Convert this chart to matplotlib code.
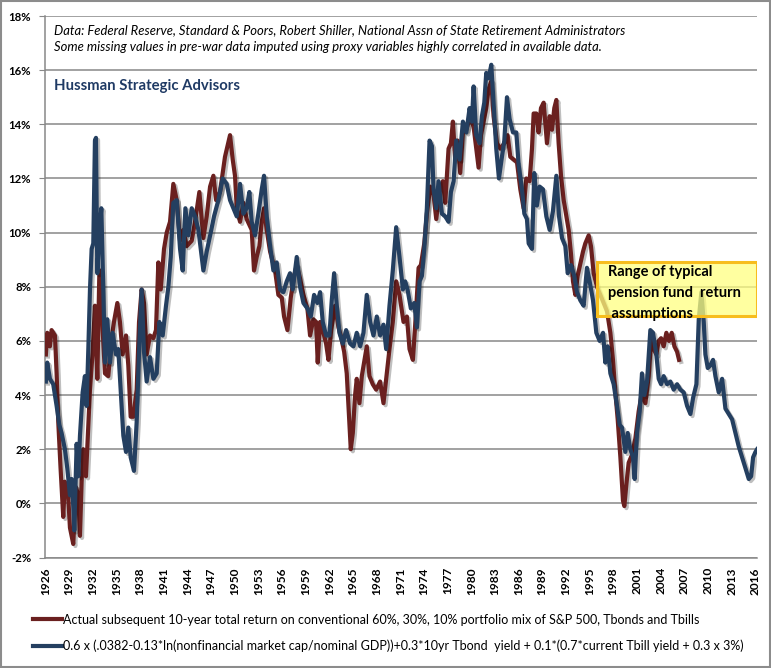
import matplotlib
matplotlib.use("Agg")
import matplotlib.pyplot as plt
import matplotlib.patheffects as pe
from matplotlib.lines import Line2D
from matplotlib.patches import Rectangle
from matplotlib.ticker import FixedLocator

plt.rcParams['font.family'] = ['Lato', 'DejaVu Sans']

# actual subsequent 10-year return of a 60/30/10 mix (%)
actual_years = [
    1926.06, 1926.23, 1926.57, 1926.78, 1927.21, 1927.42, 1927.63, 1927.92, 1928.26, 1928.47,
    1928.90, 1929.11, 1929.53, 1929.87, 1930.17, 1930.38, 1930.59, 1930.80, 1931.14, 1931.44,
    1931.65, 1931.99, 1932.28, 1932.58, 1932.83, 1933.04, 1933.26, 1933.55, 1933.97, 1934.40,
    1934.69, 1935.12, 1935.45, 1935.79, 1936.22, 1936.51, 1936.81, 1937.15, 1937.57, 1937.87,
    1938.20, 1938.50, 1938.84, 1939.26, 1939.69, 1940.02, 1940.32, 1940.62, 1941.04, 1941.38,
    1941.80, 1942.22, 1942.65, 1943.07, 1943.49, 1943.91, 1944.55, 1944.97, 1945.52, 1946.03,
    1946.45, 1946.88, 1947.30, 1947.64, 1948.14, 1948.77, 1949.41, 1949.75, 1950.04, 1950.26,
    1950.68, 1951.10, 1951.52, 1952.16, 1952.45, 1952.79, 1953.13, 1953.43, 1953.72, 1954.06,
    1954.49, 1955.12, 1955.54, 1955.97, 1956.26, 1956.69, 1957.11, 1957.53, 1957.87, 1958.29,
    1958.72, 1959.22, 1959.56, 1959.98, 1960.32, 1960.53, 1960.83, 1961.25, 1961.59, 1961.89,
    1962.23, 1962.73, 1963.16, 1963.45, 1963.88, 1964.21, 1964.43, 1964.72, 1964.98, 1965.27,
    1965.48, 1965.82, 1966.12, 1966.41, 1966.75, 1967.09, 1967.51, 1967.94, 1968.44, 1968.87,
    1969.21, 1969.63, 1970.05, 1970.48, 1970.90, 1971.41, 1971.84, 1972.17, 1972.60, 1972.89,
    1973.32, 1973.61, 1974.04, 1974.37, 1974.80, 1975.22, 1975.56, 1975.98, 1976.40, 1976.70,
    1977.12, 1977.42, 1977.67, 1977.97, 1978.27, 1978.60, 1978.94, 1979.37, 1979.87, 1980.30,
    1980.63, 1980.93, 1981.23, 1981.57, 1981.90, 1982.20, 1982.54, 1982.83, 1983.26, 1983.68,
    1984.19, 1984.61, 1984.95, 1985.37, 1985.80, 1986.22, 1986.64, 1986.98, 1987.40, 1987.70,
    1987.91, 1988.25, 1988.54, 1988.84, 1989.18, 1989.60, 1989.94, 1990.24, 1990.53, 1990.79,
    1991.08, 1991.38, 1991.72, 1992.06, 1992.35, 1992.65, 1992.90, 1993.20, 1993.49, 1994.17,
    1994.46, 1994.89, 1995.18, 1995.52, 1995.94, 1996.37, 1996.79, 1997.21, 1997.64, 1997.97,
    1998.27, 1998.57, 1998.91, 1999.24, 1999.41, 1999.67, 1999.96, 2000.39, 2000.81, 2001.23,
    2001.65, 2002.08, 2002.50, 2002.80, 2003.14, 2003.47, 2003.77, 2004.07, 2004.40, 2004.74,
    2005.08, 2005.42, 2005.76, 2006.10, 2006.35,
]
actual_ret = [
    5.5, 6.3, 5.8, 6.4, 6.2, 4.8, 3.0, 1.3, -0.5, 0.8,
    0.2, -0.9, -1.5, 0.6, 0.3, -1.2, 0.8, 2.0, 1.0, 2.9,
    4.2, 5.6, 7.3, 4.6, 8.4, 8.6, 6.4, 4.8, 4.7, 6.1,
    6.7, 7.4, 6.7, 5.5, 6.2, 5.1, 3.2, 3.2, 4.2, 6.7,
    7.9, 7.4, 5.5, 6.2, 6.1, 6.4, 8.9, 7.9, 9.4, 10.0,
    10.4, 11.8, 11.2, 9.7, 10.1, 9.5, 9.7, 10.4, 11.5, 9.8,
    10.6, 11.7, 12.1, 11.2, 11.5, 12.8, 13.6, 12.7, 12.1, 10.9,
    10.4, 11.1, 10.5, 10.1, 8.6, 9.1, 9.5, 10.4, 10.9, 10.1,
    9.3, 8.6, 7.7, 7.6, 6.9, 6.4, 7.6, 8.4, 8.8, 8.3,
    7.7, 7.2, 6.2, 6.8, 6.7, 5.2, 6.7, 6.3, 5.9, 5.3,
    6.4, 7.3, 6.5, 6.2, 5.6, 4.8, 3.6, 2.0, 2.6, 4.0,
    4.6, 3.7, 4.7, 5.2, 5.8, 4.7, 4.4, 4.2, 4.5, 3.7,
    4.6, 5.7, 6.7, 8.2, 7.7, 6.7, 6.9, 5.7, 5.3, 6.6,
    8.7, 8.8, 9.6, 10.7, 11.7, 11.4, 10.5, 11.5, 11.9, 11.1,
    13.1, 13.3, 14.1, 12.7, 13.4, 12.2, 13.7, 13.8, 14.3, 13.9,
    13.1, 12.4, 13.6, 14.1, 14.6, 15.3, 15.6, 14.3, 13.3, 13.1,
    13.3, 13.6, 12.8, 12.7, 12.6, 11.6, 10.9, 12.0, 11.9, 13.1,
    14.4, 14.4, 13.7, 14.6, 14.8, 13.3, 14.3, 13.8, 14.6, 14.9,
    13.3, 12.1, 11.2, 10.6, 10.1, 9.2, 8.2, 7.7, 8.4, 9.3,
    9.6, 9.9, 9.5, 8.5, 8.0, 7.7, 7.4, 7.1, 6.3, 5.3,
    4.1, 3.1, 1.7, 0.1, -0.1, 0.7, 1.5, 1.8, 2.4, 3.4,
    4.1, 3.7, 4.7, 6.0, 5.7, 5.5, 6.0, 6.1, 5.8, 6.3,
    6.0, 6.3, 5.8, 5.6, 5.3,
]

# valuation-based model estimate (%)
model_years = [
    1926.06, 1926.23, 1926.57, 1926.99, 1927.42, 1927.76, 1928.05, 1928.47, 1928.77, 1929.11,
    1929.32, 1929.53, 1929.66, 1929.96, 1930.17, 1930.38, 1930.72, 1931.01, 1931.22, 1931.44,
    1931.65, 1931.86, 1932.07, 1932.28, 1932.41, 1932.58, 1932.83, 1933.09, 1933.34, 1933.55,
    1933.85, 1934.19, 1934.52, 1934.95, 1935.24, 1935.54, 1935.88, 1936.22, 1936.51, 1936.81,
    1937.23, 1937.57, 1937.91, 1938.20, 1938.50, 1938.84, 1939.26, 1939.69, 1940.11, 1940.45,
    1940.87, 1941.29, 1941.59, 1941.89, 1942.22, 1942.65, 1943.07, 1943.41, 1943.75, 1944.13,
    1944.55, 1944.97, 1945.40, 1946.03, 1946.45, 1946.96, 1947.38, 1947.93, 1948.48, 1948.99,
    1949.41, 1949.83, 1950.26, 1950.68, 1951.10, 1951.52, 1951.86, 1952.16, 1952.58, 1953.00,
    1953.43, 1953.72, 1954.06, 1954.49, 1954.91, 1955.33, 1955.75, 1956.18, 1956.60, 1957.02,
    1957.36, 1957.87, 1958.29, 1958.72, 1959.22, 1959.65, 1960.07, 1960.49, 1960.83, 1961.17,
    1961.59, 1962.01, 1962.31, 1962.61, 1962.95, 1963.28, 1963.71, 1964.13, 1964.64, 1965.06,
    1965.48, 1965.91, 1966.33, 1966.75, 1967.18, 1967.60, 1968.02, 1968.44, 1968.87, 1969.21,
    1969.63, 1970.05, 1970.48, 1970.90, 1971.33, 1971.62, 1971.92, 1972.34, 1972.77, 1973.11,
    1973.44, 1973.74, 1974.04, 1974.37, 1974.71, 1975.01, 1975.22, 1975.56, 1975.85, 1976.28,
    1976.70, 1977.12, 1977.42, 1977.76, 1978.10, 1978.52, 1978.94, 1979.37, 1979.79, 1980.08,
    1980.30, 1980.63, 1981.06, 1981.35, 1981.65, 1981.90, 1982.20, 1982.54, 1982.83, 1983.17,
    1983.51, 1983.89, 1984.19, 1984.53, 1984.86, 1985.29, 1985.71, 1986.01, 1986.43, 1986.73,
    1987.06, 1987.28, 1987.70, 1987.99, 1988.33, 1988.67, 1989.09, 1989.52, 1989.94, 1990.36,
    1990.79, 1991.13, 1991.51, 1991.93, 1992.23, 1992.65, 1993.07, 1993.41, 1993.83, 1994.25,
    1994.67, 1995.01, 1995.44, 1995.86, 1996.28, 1996.71, 1997.00, 1997.30, 1997.64, 1998.06,
    1998.48, 1998.82, 1999.12, 1999.54, 1999.84, 2000.17, 2000.51, 2000.72, 2001.02, 2001.36,
    2001.65, 2001.95, 2002.29, 2002.71, 2003.05, 2003.47, 2003.77, 2004.07, 2004.40, 2004.83,
    2005.25, 2005.67, 2006.10, 2006.52, 2006.94, 2007.37, 2007.79, 2008.13, 2008.55, 2008.85,
    2009.18, 2009.48, 2009.69, 2009.99, 2010.33, 2010.66, 2010.96, 2011.38, 2011.81, 2012.23,
    2012.65, 2013.08, 2013.50, 2013.92, 2014.35, 2014.77, 2015.19, 2015.49, 2015.74, 2016.04,
    2016.25,
]
model_ret = [
    4.5, 5.2, 4.6, 4.4, 3.6, 2.9, 2.6, 2.0, 1.3, 0.3,
    0.9, -0.1, -1.0, 2.2, 1.0, 2.5, 4.1, 4.7, 3.6, 5.7,
    7.9, 9.4, 9.6, 13.4, 13.5, 8.5, 10.0, 10.9, 7.9, 5.2,
    6.8, 5.2, 6.3, 5.5, 5.7, 4.2, 2.5, 1.9, 2.8, 1.7,
    1.2, 3.0, 5.9, 7.9, 5.6, 4.5, 5.4, 4.6, 4.8, 6.7,
    6.2, 7.3, 8.0, 9.1, 11.1, 11.2, 9.4, 8.6, 10.9, 9.9,
    10.9, 10.6, 10.1, 8.6, 9.3, 10.0, 10.6, 11.2, 12.0, 11.8,
    11.2, 10.9, 10.6, 11.8, 10.7, 10.9, 11.5, 10.4, 9.9, 10.7,
    11.6, 12.1, 10.6, 9.5, 8.6, 8.9, 7.9, 7.8, 8.2, 8.5,
    7.9, 9.1, 8.0, 7.4, 7.2, 6.9, 7.7, 7.4, 7.8, 6.7,
    6.2, 6.2, 7.5, 8.5, 7.3, 6.3, 5.9, 6.4, 5.9, 5.8,
    6.3, 5.8, 6.3, 7.7, 6.7, 6.2, 6.9, 6.2, 6.6, 5.7,
    7.3, 8.6, 10.2, 9.1, 7.9, 8.2, 7.9, 7.2, 7.4, 6.5,
    8.2, 8.4, 9.4, 10.9, 13.4, 13.2, 11.6, 10.9, 11.9, 10.7,
    10.6, 10.4, 11.5, 11.9, 13.4, 12.7, 14.1, 13.7, 14.6, 14.1,
    15.4, 13.6, 13.3, 14.3, 14.8, 15.9, 15.7, 16.2, 14.8, 13.1,
    12.0, 12.8, 13.4, 15.0, 14.2, 13.7, 13.7, 12.5, 11.6, 10.7,
    10.5, 9.6, 9.4, 12.2, 11.0, 11.7, 11.6, 10.6, 10.1, 10.8,
    12.1, 10.6, 9.8, 9.5, 8.5, 8.8, 8.4, 7.8, 7.5, 7.3,
    8.7, 8.2, 7.5, 6.3, 6.0, 6.3, 5.2, 5.8, 4.8, 4.4,
    3.6, 2.9, 2.8, 1.9, 2.6, 2.0, 1.7, 0.9, 2.6, 3.4,
    4.8, 4.0, 4.5, 6.4, 6.3, 5.5, 4.6, 4.4, 4.7, 4.4,
    4.5, 4.2, 4.4, 4.2, 4.1, 3.6, 3.3, 3.9, 4.4, 6.8,
    7.8, 6.7, 5.5, 5.0, 5.1, 5.3, 4.7, 4.1, 4.6, 3.5,
    3.3, 3.1, 2.6, 2.1, 1.7, 1.3, 0.9, 1.0, 1.7, 1.9,
    2.0,
]

tick_years = list(range(1926, 2017, 3))
y_ticks = list(range(-2, 19, 2))

# pension assumption band
band_start, band_end = 1995.9, 2016.25
band_low, band_high = 6.93, 8.92

red = '#6a201f'
blue = '#243f60'
grid_col = '#888888'

fig = plt.figure(figsize=(7.71, 6.68), dpi=100)
ax = fig.add_axes([0.0584, 0.1654, 0.9236, 0.8106])

shadow = [pe.SimpleLineShadow(offset=(1.5, -1.5), shadow_color='#000000', alpha=0.25),
          pe.Normal()]
ax.plot(actual_years, actual_ret, color=red, lw=3.0, solid_joinstyle='round',
        path_effects=shadow, zorder=3)
ax.plot(model_years, model_ret, color=blue, lw=3.0, solid_joinstyle='round',
        path_effects=shadow, zorder=4)

ax.add_patch(Rectangle((band_start, band_low), band_end - band_start, band_high - band_low,
                       facecolor='#ffff80', alpha=0.75, edgecolor='none', zorder=5))
ax.add_patch(Rectangle((band_start, band_low), band_end - band_start, band_high - band_low,
                       facecolor='none', edgecolor='#f7bd1e', lw=2.2, zorder=6))
ax.text(band_start + 1.45, band_high - 0.12, 'Range of typical\npension fund  return\n assumptions',
        fontsize=10.5, fontweight='bold', color='black', va='top', ha='left',
        linespacing=1.65, zorder=7)

ax.set_xlim(1925.95, 2016.25)
ax.set_ylim(-2, 18)
ax.xaxis.set_major_locator(FixedLocator(tick_years))
ax.set_xticklabels([str(y) for y in tick_years], rotation=90, fontsize=8.6, fontweight='bold')
ax.yaxis.set_major_locator(FixedLocator(y_ticks))
ax.set_yticklabels([f'{v}%' for v in y_ticks], fontsize=8.2, fontweight='bold')
ax.tick_params(axis='x', length=0, pad=7)
ax.tick_params(axis='y', length=4, color=grid_col, pad=6)
ax.grid(True, axis='y', color=grid_col, lw=1.1)
ax.set_axisbelow(True)
for s in ['top', 'right']:
    ax.spines[s].set_visible(False)
for s in ['left', 'bottom']:
    ax.spines[s].set_color(grid_col)
    ax.spines[s].set_linewidth(1.1)

ax.text(0.013, 0.985, 'Data: Federal Reserve, Standard & Poors, Robert Shiller, National Assn of State Retirement Administrators\n'
        'Some missing values in pre-war data imputed using proxy variables highly correlated in available data.',
        transform=ax.transAxes, fontsize=9.4, style='italic', va='top', ha='left', linespacing=1.45)
ax.text(0.013, 0.87, 'Hussman Strategic Advisors', transform=ax.transAxes,
        fontsize=10.7, fontweight='bold', color='#1f3a64', va='center', ha='left')

handles = [Line2D([], [], color=red, lw=3), Line2D([], [], color=blue, lw=3)]
labels = ['Actual subsequent 10-year total return on conventional 60%, 30%, 10% portfolio mix of S&P 500, Tbonds and Tbills',
          '0.6 x (.0382-0.13*ln(nonfinancial market cap/nominal GDP))+0.3*10yr Tbond  yield + 0.1*(0.7*current Tbill yield + 0.3 x 3%)']
fig.legend(handles, labels, loc='upper left', bbox_to_anchor=(0.043, 0.0815), frameon=False,
           fontsize=9.0, handlelength=2.3, handletextpad=0.1, labelspacing=1.13, borderpad=0,
           borderaxespad=0)

fig.add_artist(Rectangle((0.001, 0.001), 0.998, 0.998, transform=fig.transFigure,
                         facecolor='none', edgecolor='#8c8c8c', lw=1.5))

fig.savefig('out.png', dpi=100)
